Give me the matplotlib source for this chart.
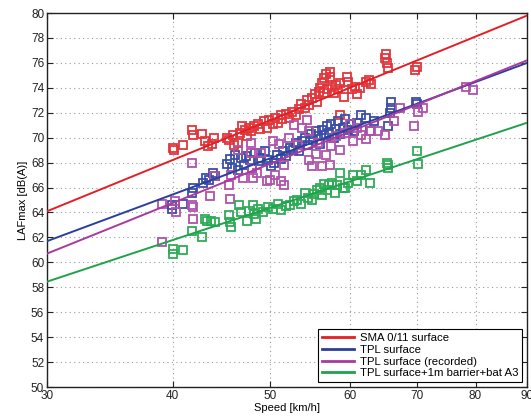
import numpy as np
import matplotlib
matplotlib.use("Agg")
import matplotlib.pyplot as plt
from matplotlib.ticker import FixedLocator, FixedFormatter, NullLocator

plt.rcParams['font.family'] = ['Liberation Sans', 'DejaVu Sans']

# measured points (speed km/h, LAFmax dB(A))
red_speed = [40.0, 40.1, 41.0, 41.8, 41.9, 42.8, 43.1, 43.4, 43.8, 44.0, 45.3, 45.5, 45.9, 46.0,
             46.4, 46.7, 46.9, 47.2, 47.4, 47.6, 47.9, 48.2, 48.6, 48.9, 49.3, 49.6, 49.9, 50.3,
             50.5, 50.9, 51.2, 51.4, 51.9, 52.2, 52.6, 53.0, 53.4, 53.7, 54.1, 54.4, 54.7, 55.0,
             55.4, 55.6, 55.9, 56.1, 56.3, 56.5, 56.8, 56.6, 57.0, 57.3, 57.4, 57.6, 57.9, 58.1,
             58.4, 58.6, 58.7, 59.2, 59.6, 59.8, 60.3, 60.7, 61.0, 61.4, 62.3, 62.7, 63.0, 65.0,
             65.3, 65.4, 65.2, 69.7, 70.0]
red_level = [69.2, 69.0, 69.4, 70.6, 70.2, 70.3, 69.7, 69.3, 69.5, 70.0, 70.0, 69.8, 70.2, 69.4,
             69.6, 70.4, 70.9, 70.6, 70.1, 70.8, 70.5, 70.9, 71.1, 70.7, 71.3, 70.8, 71.4, 71.1,
             71.6, 71.2, 71.8, 71.5, 71.9, 71.6, 72.1, 71.8, 72.3, 72.7, 72.4, 73.0, 72.6, 73.2,
             73.5, 72.9, 73.7, 74.0, 74.4, 74.8, 75.1, 73.6, 73.9, 75.3, 74.9, 74.1, 73.6, 74.2,
             73.9, 71.8, 74.4, 73.3, 74.9, 74.5, 73.9, 74.1, 73.5, 74.0, 74.5, 74.6, 74.3, 76.4,
             76.0, 75.6, 76.7, 75.4, 75.7]

blue_speed = [39.9, 39.9, 41.0, 41.8, 41.9, 42.9, 43.2, 43.5, 43.9, 44.1, 45.3, 45.6, 45.8, 46.1,
              46.4, 46.8, 47.1, 47.3, 47.7, 48.0, 48.3, 48.7, 49.0, 49.4, 49.8, 50.1, 50.4, 50.8,
              51.2, 51.5, 51.9, 52.3, 52.7, 53.1, 53.4, 53.8, 54.2, 54.5, 54.9, 55.2, 55.5, 55.8,
              56.0, 56.3, 56.6, 56.9, 57.2, 57.5, 57.8, 58.1, 58.4, 58.7, 59.0, 59.4, 59.8, 60.2,
              60.6, 61.0, 61.6, 62.2, 62.8, 63.4, 65.5, 65.8, 65.9, 66.0, 69.8, 70.0]
blue_level = [64.3, 64.6, 64.7, 65.6, 66.0, 66.4, 66.8, 66.6, 67.2, 66.9, 67.9, 68.3, 67.6, 68.6,
              67.4, 68.4, 67.8, 68.5, 68.2, 67.6, 68.8, 68.1, 68.4, 68.9, 68.2, 67.7, 68.0, 68.6,
              68.3, 68.9, 68.5, 69.2, 69.0, 69.6, 68.9, 69.7, 70.0, 69.4, 70.3, 69.8, 70.5, 70.1,
              69.5, 70.6, 70.2, 70.9, 70.4, 71.1, 70.0, 70.7, 71.3, 70.3, 70.8, 71.5, 70.6, 71.1,
              70.5, 71.2, 71.8, 71.6, 70.5, 71.3, 70.9, 72.0, 72.4, 72.9, 72.9, 72.7]

mag_speed = [39.0, 39.0, 40.2, 40.3, 41.8, 41.8, 41.9, 41.9, 43.6, 44.0, 45.5, 45.6, 45.7, 46.5,
             47.0, 47.8, 47.9, 48.0, 48.1, 48.5, 49.0, 49.6, 50.0, 50.3, 50.6, 51.0, 51.2, 51.6,
             51.6, 52.2, 52.8, 53.3, 53.8, 54.4, 54.6, 54.6, 55.0, 55.5, 55.8, 56.3, 56.8, 57.3,
             57.5, 58.1, 58.6, 59.4, 60.0, 60.4, 61.0, 61.5, 62.3, 63.0, 64.0, 65.0, 66.4, 67.3,
             69.5, 70.2, 71.0, 78.3, 79.5]
mag_level = [61.6, 64.7, 64.9, 64.0, 68.0, 64.6, 64.4, 63.5, 65.3, 66.9, 66.2, 65.1, 67.0, 69.0,
             66.8, 69.6, 68.8, 67.6, 66.8, 67.2, 68.8, 66.5, 66.6, 69.7, 67.0, 69.5, 66.5, 66.2,
             67.8, 70.0, 71.0, 69.4, 70.8, 71.4, 70.5, 68.2, 67.7, 68.7, 69.6, 67.7, 68.6, 67.8,
             69.3, 70.1, 69.0, 70.4, 71.1, 69.7, 70.8, 70.2, 69.9, 70.5, 70.5, 70.2, 71.3, 72.4,
             70.9, 72.1, 72.4, 74.1, 73.8]

green_speed = [40.0, 40.0, 41.0, 41.8, 42.8, 43.1, 43.3, 43.7, 44.1, 45.5, 45.6, 45.7, 46.6, 46.8,
               47.4, 47.6, 48.1, 48.2, 48.4, 48.6, 49.2, 49.8, 50.3, 50.9, 51.3, 51.8, 52.3, 52.8,
               53.2, 53.6, 54.2, 54.5, 55.0, 55.3, 55.6, 56.0, 56.3, 56.6, 56.9, 57.2, 57.6, 58.0,
               58.3, 58.7, 59.0, 59.4, 59.8, 60.4, 61.0, 61.5, 62.3, 62.8, 65.3, 65.4, 65.5, 70.0,
               70.2]
green_level = [61.1, 60.7, 61.0, 62.5, 62.0, 63.5, 63.3, 63.3, 63.2, 63.8, 63.2, 62.8, 64.6, 64.0,
               63.3, 64.1, 64.6, 63.9, 63.5, 64.3, 64.0, 64.4, 64.3, 64.7, 64.2, 64.5, 64.6, 64.9,
               65.0, 64.7, 65.6, 65.2, 65.0, 65.5, 65.8, 66.0, 65.4, 66.3, 65.8, 66.2, 66.4, 65.6,
               66.2, 67.2, 66.0, 66.0, 66.4, 67.0, 66.5, 67.0, 67.4, 66.4, 68.0, 67.6, 67.8, 68.9,
               67.9]

# regression lines: level = a + b*log10(speed)
fit_a = [15.5, 17.43, 12.71, 18.98]
fit_b = [32.9, 29.97, 32.49, 26.72]

labels = ["SMA 0/11 surface", "TPL surface", "TPL surface (recorded)",
          "TPL surface+1m barrier+bat A3"]
colors = ["#e31f26", "#2b3f9c", "#a8399f", "#1ea34a"]
pt_colors = ["#e0363c", "#3a4ea6", "#b052aa", "#2eab57"]

xticks = [30, 40, 50, 60, 70, 80, 90]
yticks = list(range(50, 81, 2))

fig = plt.figure(figsize=(5.31, 4.16), dpi=100)
ax = fig.add_axes([0.0885, 0.0697, 0.904, 0.899])

series = [(red_speed, red_level), (blue_speed, blue_level),
          (mag_speed, mag_level), (green_speed, green_level)]
for (sx, sy), pc in zip(series, pt_colors):
    ax.plot(sx, sy, linestyle='none', marker='s', markersize=5.2,
            markerfacecolor='none', markeredgecolor=pc, markeredgewidth=1.3, zorder=3)

xs = np.logspace(np.log10(30), np.log10(90), 50)
for a, b, c, lab in zip(fit_a, fit_b, colors, labels):
    ax.plot(xs, a + b * np.log10(xs), color=c, lw=1.4, label=lab, zorder=4)

ax.set_xscale('log')
ax.set_xlim(30, 90)
ax.set_ylim(50, 80)
ax.xaxis.set_major_locator(FixedLocator(xticks))
ax.xaxis.set_major_formatter(FixedFormatter([str(t) for t in xticks]))
ax.xaxis.set_minor_locator(NullLocator())
ax.set_yticks(yticks)
ax.tick_params(direction='in', top=True, right=True, length=4, width=0.8,
               labelsize=8.5, colors='#222222', pad=2)
ax.grid(True, linestyle=(0, (1, 3)), color='#999999', linewidth=0.8)
for s in ax.spines.values():
    s.set_linewidth(1.0)
    s.set_color('#222222')

ax.set_xlabel("Speed [km/h]", fontsize=8, labelpad=1)
ax.set_ylabel("LAFmax [dB(A)]", fontsize=8, labelpad=2)

leg = ax.legend(loc='lower right', fontsize=8.2, fancybox=False, framealpha=1,
                edgecolor='black', handlelength=2.8, borderaxespad=0.4,
                labelspacing=0.15, borderpad=0.35, handletextpad=0.5)
leg.get_frame().set_linewidth(0.8)
for line in leg.get_lines():
    line.set_linewidth(2)

fig.savefig("out.png", dpi=100)
